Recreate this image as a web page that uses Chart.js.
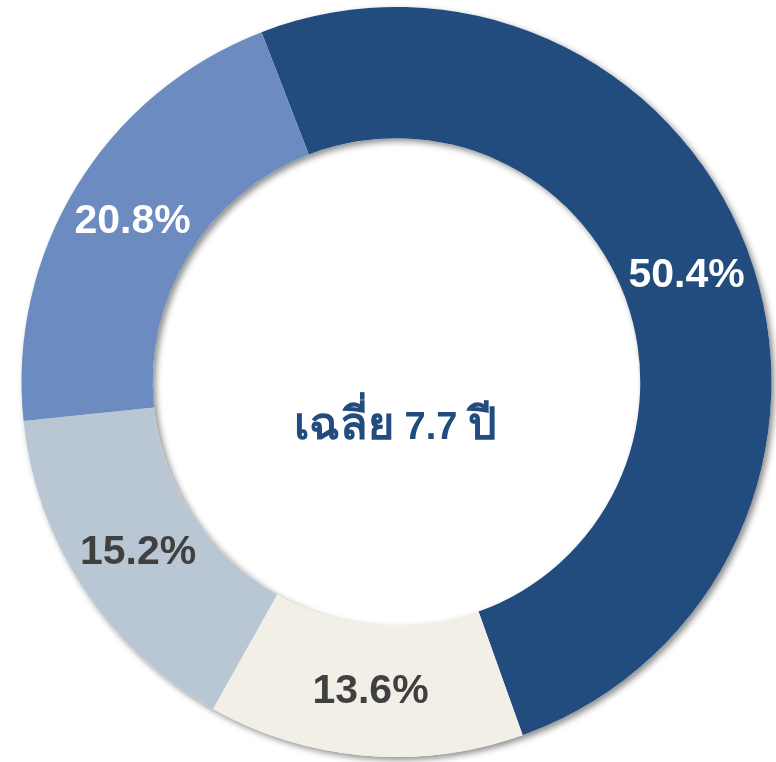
<!DOCTYPE html>
<html lang="th">
<head>
  <meta charset="UTF-8" />
  <title>เฉลี่ย 7.7 ปี</title>
  <style>
    * {
      box-sizing: border-box;
      margin: 0;
      padding: 0;
    }

    body {
      background-color: #fff;
      width: 776px;
      height: 762px;
      overflow: hidden;
    }

    .chart-container {
      position: relative;
      width: 776px;
      height: 762px;
    }
  </style>
</head>
<body>
  <div class="chart-container">
    <canvas id="donutChart"></canvas>
  </div>

  <script src="https://cdn.jsdelivr.net/npm/chart.js"></script>
  <script>
    // data
    const labels = ['50.4%', '13.6%', '15.2%', '20.8%'];
    const shares = [50.4, 13.6, 15.2, 20.8];
    const colors = ['#224c7e', '#f2efe6', '#b8c7d3', '#6b8bc1'];
    const labelColors = ['#ffffff', '#404040', '#404040', '#ffffff'];
    // center text, split so the Thai words can be a bit larger than the number
    const centerParts = [
      { text: 'เฉลี่ย', size: 45 },
      { text: ' 7.7 ', size: 38 },
      { text: 'ปี', size: 45 }
    ];

    const fontFamily = '"Liberation Sans", Arial, "Noto Sans", sans-serif';

    // soft drop shadow under the whole ring
    const ringShadow = {
      id: 'ringShadow',
      beforeDatasetsDraw(chart) {
        const arc = chart.getDatasetMeta(0).data[0];
        if (!arc) return;
        const ctx = chart.ctx;
        ctx.save();
        ctx.shadowColor = 'rgba(0,0,0,0.45)';
        ctx.shadowBlur = 6;
        ctx.shadowOffsetX = 3;
        ctx.shadowOffsetY = 3;
        ctx.fillStyle = '#fff';
        ctx.beginPath();
        ctx.arc(arc.x, arc.y, arc.outerRadius, 0, Math.PI * 2);
        ctx.arc(arc.x, arc.y, arc.innerRadius, 0, Math.PI * 2, true);
        ctx.fill('evenodd');
        ctx.restore();
      }
    };

    // percent labels in the ring and the text in the hole
    const ringLabels = {
      id: 'ringLabels',
      afterDatasetsDraw(chart) {
        const ctx = chart.ctx;
        const meta = chart.getDatasetMeta(0);
        ctx.save();
        ctx.textAlign = 'center';
        ctx.textBaseline = 'middle';
        ctx.font = 'bold 41px ' + fontFamily;
        meta.data.forEach((arc, i) => {
          const p = arc.getCenterPoint();
          ctx.fillStyle = labelColors[i];
          ctx.fillText(labels[i], p.x, p.y + 1);
        });

        const first = meta.data[0];
        ctx.fillStyle = '#234c7e';
        ctx.textAlign = 'left';
        ctx.textBaseline = 'alphabetic';
        let total = 0;
        const widths = centerParts.map(part => {
          ctx.font = 'bold ' + part.size + 'px ' + fontFamily;
          const w = ctx.measureText(part.text).width;
          total += w;
          return w;
        });
        let x = first.x - 1 - total / 2;
        centerParts.forEach((part, i) => {
          ctx.font = 'bold ' + part.size + 'px ' + fontFamily;
          ctx.fillText(part.text, x, first.y + 57);
          x += widths[i];
        });
        ctx.restore();
      }
    };

    new Chart(document.getElementById('donutChart'), {
      type: 'doughnut',
      data: {
        labels: labels,
        datasets: [{
          data: shares,
          backgroundColor: colors,
          borderWidth: 0
        }]
      },
      options: {
        responsive: true,
        maintainAspectRatio: false,
        animation: false,
        cutout: '65%',
        rotation: -21.1,
        layout: {
          padding: { top: 7, bottom: 5, left: 17, right: 0 }
        },
        plugins: {
          legend: { display: false },
          tooltip: { enabled: false }
        }
      },
      plugins: [ringShadow, ringLabels]
    });
  </script>
</body>
</html>
